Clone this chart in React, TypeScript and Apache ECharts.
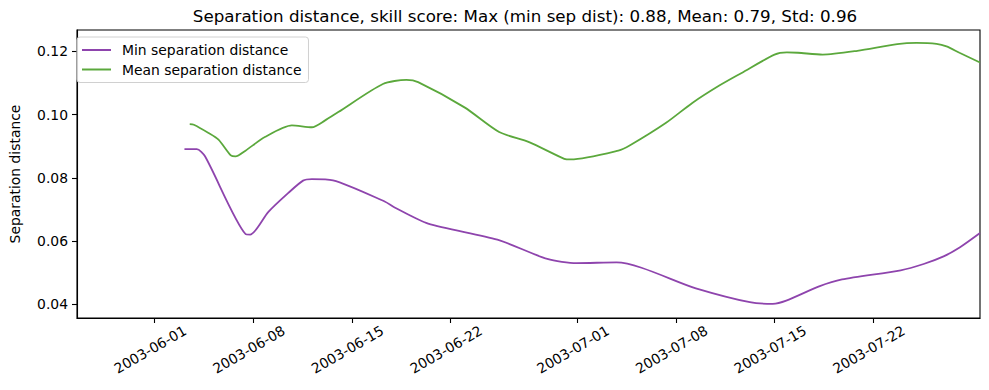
import React, { useEffect, useRef } from "react";
import * as echarts from "echarts";

const titleText =
  "Separation distance, skill score: Max (min sep dist): 0.88, Mean: 0.79, Std: 0.96";

const minTimes = [
  "2003-06-03 03:00", "2003-06-04 00:00", "2003-06-04 14:00", "2003-06-07 11:00",
  "2003-06-07 19:00", "2003-06-09 02:00", "2003-06-10 12:00", "2003-06-11 13:00",
  "2003-06-12 04:00", "2003-06-13 16:00", "2003-06-17 08:00", "2003-06-18 01:00",
  "2003-06-20 10:00", "2003-06-25 08:00", "2003-06-28 21:00", "2003-06-30 23:00",
  "2003-07-03 19:00", "2003-07-09 10:00", "2003-07-13 06:00", "2003-07-14 21:00",
  "2003-07-15 20:00", "2003-07-18 04:00", "2003-07-19 19:00", "2003-07-23 23:00",
  "2003-07-25 14:00", "2003-07-27 00:00", "2003-07-28 04:00", "2003-07-29 14:00",
];
const minValues = [
  0.0891, 0.0891, 0.0868, 0.0622, 0.062, 0.0692, 0.0752, 0.0791, 0.0796, 0.0792,
  0.0725, 0.0706, 0.0655, 0.0604, 0.0543, 0.053, 0.0532, 0.045, 0.0406, 0.0401,
  0.0411, 0.0456, 0.0478, 0.0507, 0.0527, 0.0551, 0.058, 0.0625,
];

const meanTimes = [
  "2003-06-03 12:00", "2003-06-03 19:00", "2003-06-04 20:00", "2003-06-05 13:00",
  "2003-06-06 10:00", "2003-06-06 18:00", "2003-06-07 11:00", "2003-06-08 20:00",
  "2003-06-10 18:00", "2003-06-12 04:00", "2003-06-13 02:00", "2003-06-14 01:00",
  "2003-06-17 05:00", "2003-06-18 21:00", "2003-06-19 17:00", "2003-06-23 00:00",
  "2003-06-25 11:00", "2003-06-27 14:00", "2003-06-30 02:00", "2003-06-30 13:00",
  "2003-07-03 22:00", "2003-07-04 18:00", "2003-07-07 08:00", "2003-07-09 04:00",
  "2003-07-11 02:00", "2003-07-12 16:00", "2003-07-15 00:00", "2003-07-15 21:00",
  "2003-07-16 16:00", "2003-07-18 10:00", "2003-07-20 21:00", "2003-07-23 17:00",
  "2003-07-25 02:00", "2003-07-26 12:00", "2003-07-27 05:00", "2003-07-28 03:00",
  "2003-07-29 14:00",
];
const meanValues = [
  0.097, 0.0968, 0.0942, 0.0921, 0.0871, 0.0868, 0.0886, 0.0929, 0.0966, 0.096,
  0.0981, 0.1008, 0.1097, 0.111, 0.1103, 0.1023, 0.0945, 0.0913, 0.086, 0.0858,
  0.0886, 0.0903, 0.0975, 0.1037, 0.1092, 0.1132, 0.119, 0.1197, 0.1196, 0.119,
  0.1202, 0.1223, 0.1227, 0.1224, 0.1216, 0.1196, 0.1165,
];

const xTickLabels = [
  "2003-06-01", "2003-06-08", "2003-06-15", "2003-06-22",
  "2003-07-01", "2003-07-08", "2003-07-15", "2003-07-22",
];
const yTickValues = [0.04, 0.06, 0.08, 0.1, 0.12];

const xRange = ["2003-05-26 12:00", "2003-07-29 14:00"];
const yRange = [0.0356, 0.1268];

const toMs = (s: string) => Date.parse(s.replace(" ", "T") + (s.length > 10 ? ":00Z" : "T00:00:00Z"));

const FONT = "DejaVu Sans";
const PURPLE = "#8e44ad";
const GREEN = "#5ba83c";

export default function App() {
  const ref = useRef<HTMLDivElement>(null);
  useEffect(() => {
    if (!ref.current) return;
    const chart = echarts.init(ref.current, null, { renderer: "svg" });
    const xTicks = xTickLabels.map(toMs);
    chart.setOption({
      animation: false,
      textStyle: { fontFamily: FONT },
      grid: {
        left: 71,
        top: 30,
        width: 909,
        height: 288,
        show: true,
        borderColor: "#000",
        borderWidth: 1.1,
        backgroundColor: "transparent",
      },
      graphic: [
        {
          type: "text",
          x: 525,
          y: 16,
          style: {
            text: titleText,
            fontFamily: FONT,
            fontSize: 16.7,
            fill: "#000",
            align: "center",
            verticalAlign: "middle",
          },
        },
      ],
      legend: {
        orient: "vertical",
        left: 77,
        top: 37,
        padding: [6, 7, 6, 5],
        itemGap: 5.5,
        itemWidth: 29,
        itemHeight: 2,
        icon: "rect",
        backgroundColor: "rgba(255,255,255,0.8)",
        borderColor: "#d0d0d0",
        borderWidth: 1,
        borderRadius: 3,
        textStyle: { fontFamily: FONT, fontSize: 13.9, color: "#000", padding: [0, 0, 0, 6] },
        data: [
          { name: "Min separation distance", itemStyle: { color: PURPLE } },
          { name: "Mean separation distance", itemStyle: { color: GREEN } },
        ],
      },
      xAxis: {
        type: "value",
        min: toMs(xRange[0]),
        max: toMs(xRange[1]),
        splitLine: { show: false },
        axisLine: { onZero: false, lineStyle: { color: "#000", width: 1.1 } },
        axisTick: { show: true, length: 5, lineStyle: { color: "#000", width: 1.1 }, customValues: xTicks },
        axisLabel: {
          customValues: xTicks,
          rotate: 30,
          align: "center",
          verticalAlign: "middle",
          padding: [0, 10, 0, 0],
          margin: 29,
          fontFamily: FONT,
          fontSize: 13.9,
          color: "#000",
          formatter: (v: number) => new Date(v).toISOString().slice(0, 10),
        },
      },
      yAxis: {
        type: "value",
        min: yRange[0],
        max: yRange[1],
        name: "Separation distance",
        nameLocation: "middle",
        nameGap: 55,
        nameTextStyle: { fontFamily: FONT, fontSize: 13.9, color: "#000" },
        splitLine: { show: false },
        axisLine: { show: true, onZero: false, lineStyle: { color: "#000", width: 1.1 } },
        axisTick: { show: true, length: 5, lineStyle: { color: "#000", width: 1.1 }, customValues: yTickValues },
        axisLabel: {
          customValues: yTickValues,
          margin: 9,
          fontFamily: FONT,
          fontSize: 13.9,
          color: "#000",
          formatter: (v: number) => v.toFixed(2),
        },
      },
      series: [
        {
          name: "Min separation distance",
          type: "line",
          symbol: "none",
          smooth: 0.25,
          lineStyle: { color: PURPLE, width: 1.8 },
          itemStyle: { color: PURPLE },
          data: minTimes.map((t, i) => [toMs(t), minValues[i]]),
        },
        {
          name: "Mean separation distance",
          type: "line",
          symbol: "none",
          smooth: 0.25,
          lineStyle: { color: GREEN, width: 1.8 },
          itemStyle: { color: GREEN },
          data: meanTimes.map((t, i) => [toMs(t), meanValues[i]]),
        },
      ],
    });
    return () => chart.dispose();
  }, []);
  return <div ref={ref} style={{ width: 989, height: 390, position: "absolute", left: 0, top: 0 }} />;
}
